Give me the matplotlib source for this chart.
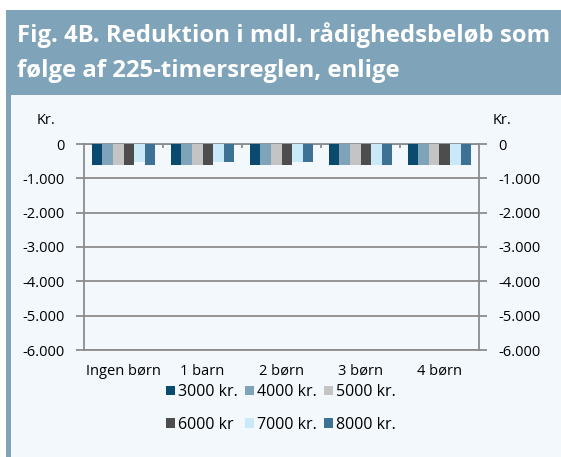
import numpy as np
import matplotlib
matplotlib.use("Agg")
import matplotlib.pyplot as plt
from matplotlib.patches import Rectangle
from matplotlib.ticker import FuncFormatter

plt.rcParams['font.family'] = ['Open Sans', 'DejaVu Sans']

# data
kategorier = ['Ingen børn', '1 barn', '2 børn', '3 børn', '4 børn']
serier = ['3000 kr.', '4000 kr.', '5000 kr.', '6000 kr', '7000 kr.', '8000 kr.']
v3000 = [-610, -610, -610, -610, -610]
v4000 = [-610, -610, -610, -610, -610]
v5000 = [-610, -610, -610, -610, -610]
v6000 = [-610, -610, -610, -610, -610]
v7000 = [-525, -525, -525, -610, -610]
v8000 = [-610, -525, -525, -610, -610]
farver = ['#0b4a6f', '#7fa3b8', '#c4c4c4', '#4d4d4d', '#c9e8f8', '#3d7294']
titel = 'Fig. 4B. Reduktion i mdl. rådighedsbeløb som\nfølge af 225-timersreglen, enlige'

W, H = 561, 457
fig = plt.figure(figsize=(W/100, H/100), dpi=100)
fig.patch.set_facecolor('white')

# baggrund, titelboks og venstre kant
fig.patches.append(Rectangle((6/W, 0), (W-6)/W, (H-95)/H, transform=fig.transFigure,
                             facecolor='#f3f8fc', edgecolor='none', zorder=-5))
fig.patches.append(Rectangle((6/W, (H-95)/H), (W-6)/W, 85/H, transform=fig.transFigure,
                             facecolor='#7fa3b8', edgecolor='none', zorder=-5))
fig.patches.append(Rectangle((6/W, 0), 5/W, (H-95)/H, transform=fig.transFigure,
                             facecolor='#7fa3b8', edgecolor='none', zorder=-5))
fig.text(17/W, 1 - 52.5/H, titel, color='white', fontsize=17.2, fontweight='bold',
         va='center', ha='left', linespacing=1.62)

ax = fig.add_axes([84/W, (H-350)/H, 395/W, 206/H])
ax.set_facecolor('none')
ax.set_zorder(2)

data = [v3000, v4000, v5000, v6000, v7000, v8000]
x = np.arange(len(kategorier))
bw = 0.8/6
bars = []
for i, (vals, c, lab) in enumerate(zip(data, farver, serier)):
    bars.append(ax.bar(x - 0.4 + bw*(i+0.5), vals, bw, color=c, label=lab, zorder=3))

ax.set_xlim(-0.5, 4.5)
ax.set_ylim(-6000, 0)
ax.set_yticks(np.arange(-6000, 1, 1000))
fmt = FuncFormatter(lambda v, p: '0' if v == 0 else f'{int(v):,}'.replace(',', '.'))
ax.yaxis.set_major_formatter(fmt)
ax.grid(axis='y', color='#8c8c8c', lw=1.3, zorder=1)
for s in ax.spines.values():
    s.set_color('#8c8c8c')
    s.set_linewidth(1.3)
ax.tick_params(axis='y', which='major', left=True, right=True, labelleft=True, labelright=True,
               length=6, width=1.3, color='#8c8c8c', labelsize=10.5, pad=8)
ax.set_xticks(x)
ax.set_xticklabels(kategorier)
ax.set_xticks(np.arange(0.5, 4.5, 1), minor=True)
ax.tick_params(axis='x', which='major', length=0, labelsize=10.5, pad=10)
ax.tick_params(axis='x', which='minor', bottom=False, top=True, direction='in',
               length=3, width=1.3, color='#8c8c8c')

fig.text(46/W, 1 - 121/H, 'Kr.', fontsize=10.5, ha='center', va='center')
fig.text(502/W, 1 - 121/H, 'Kr.', fontsize=10.5, ha='center', va='center')

# legend udfyldes raekkevis
order = [0, 3, 1, 4, 2, 5]
ax.legend([bars[i] for i in order], [serier[i] for i in order],
          loc='upper left', bbox_to_anchor=(158/W, 1 - 376/H), bbox_transform=fig.transFigure,
          ncol=3, frameon=False, fontsize=11.5, handlelength=0.55, handleheight=0.55,
          handletextpad=0.2, columnspacing=0.45, labelspacing=1.05, borderpad=0)

fig.savefig('out.png', dpi=100)
